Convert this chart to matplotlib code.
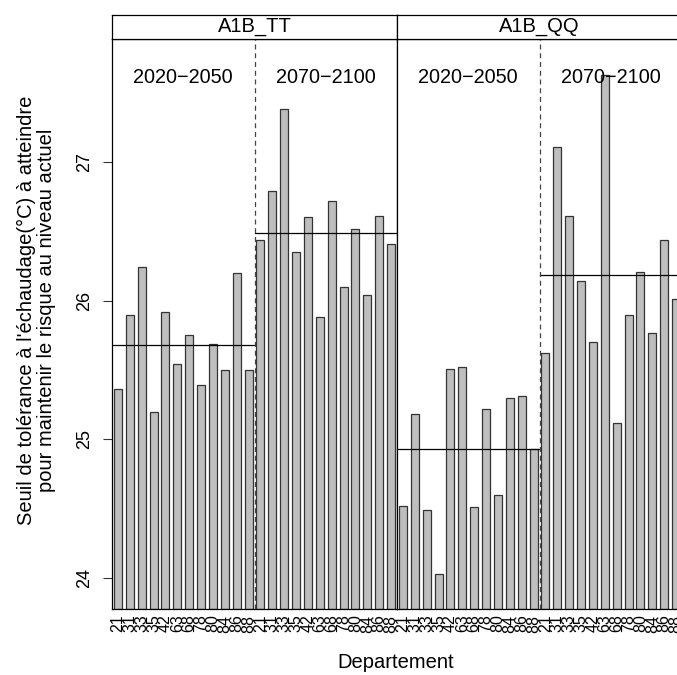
import matplotlib.pyplot as plt
import numpy as np

plt.rcParams['font.family'] = ['Liberation Sans', 'DejaVu Sans']

departements = ['21', '31', '33', '35', '42', '63', '68', '78', '80', '84', '86', '88']
periodes = ['2020\u22122050', '2070\u22122100']
scenarios = ['A1B_TT', 'A1B_QQ']

# seuil de tolerance par departement, scenario et periode
tt_2020 = [25.36, 25.90, 26.24, 25.20, 25.92, 25.54, 25.75, 25.39, 25.69, 25.50, 26.20, 25.50]
tt_2070 = [26.44, 26.79, 27.38, 26.35, 26.60, 25.88, 26.72, 26.10, 26.52, 26.04, 26.61, 26.41]
qq_2020 = [24.52, 25.18, 24.49, 24.03, 25.51, 25.52, 24.51, 25.22, 24.60, 25.30, 25.31, 24.93]
qq_2070 = [25.62, 27.11, 26.61, 26.14, 25.70, 27.63, 25.12, 25.90, 26.21, 25.77, 26.44, 26.01]

data = {'A1B_TT': [tt_2020, tt_2070], 'A1B_QQ': [qq_2020, qq_2070]}

ylo, yhi = 23.776, 27.887
W, H = 677, 675

fig = plt.figure(figsize=(W / 100, H / 100), dpi=100)

ax_left, ax_w = 112 / W, 285 / W
ax_bot, ax_top = (H - 609) / H, (H - 39) / H
strip_h = 24 / H

n = len(departements)
for i, sc in enumerate(scenarios):
    x0 = ax_left + i * ax_w
    ax = fig.add_axes([x0, ax_bot, ax_w, ax_top - ax_bot])
    st = fig.add_axes([x0, ax_top, ax_w, strip_h])

    for j, vals in enumerate(data[sc]):
        xs = np.arange(n) + j * n
        vals = np.array(vals)
        ax.bar(xs, vals - ylo, bottom=ylo, width=0.68, color='#BEBEBE',
               edgecolor='#333333', linewidth=0.9, zorder=2)
        m = vals.mean()
        ax.plot([j * n - 0.5, j * n + n - 0.5], [m, m], color='black',
                lw=0.9, zorder=3)
        ax.text(j * n + n / 2 - 0.5, yhi - 0.28, periodes[j], ha='center',
                va='center', fontsize=14.3)
    ax.axvline(n - 0.5, color='#444444', lw=0.9, ls=(0, (4, 3)), zorder=4)

    ax.set_xlim(-0.5, 2 * n - 0.5)
    ax.set_ylim(ylo, yhi)
    ax.set_xticks(np.arange(2 * n))
    ax.set_xticklabels(departements * 2, rotation=90, fontsize=11.5)
    ax.tick_params(axis='x', length=0, pad=4)
    if i == 0:
        ax.set_yticks([24, 25, 26, 27])
        ax.set_yticklabels(['24', '25', '26', '27'], rotation=90,
                           va='center', fontsize=13)
        ax.tick_params(axis='y', length=6.5, width=0.8, pad=7,
                       color='#333333')
    else:
        ax.set_yticks([])
    for s in ax.spines.values():
        s.set_linewidth(0.9)

    st.set_xticks([])
    st.set_yticks([])
    for s in st.spines.values():
        s.set_linewidth(0.9)
    st.text(0.5, 0.5, sc, ha='center', va='center', fontsize=14.5,
            transform=st.transAxes)

fig.text(36.5 / W, (H - 310) / H,
         "Seuil de tolérance à l'échaudage(°C) à atteindre\n"
         "pour maintenir le risque au niveau actuel",
         rotation=90, ha='center', va='center', fontsize=14.5,
         multialignment='center', linespacing=1.1)
fig.text(396 / W, (H - 663) / H, 'Departement', ha='center', va='center',
         fontsize=14.5)

fig.savefig('out.png', dpi=100)
